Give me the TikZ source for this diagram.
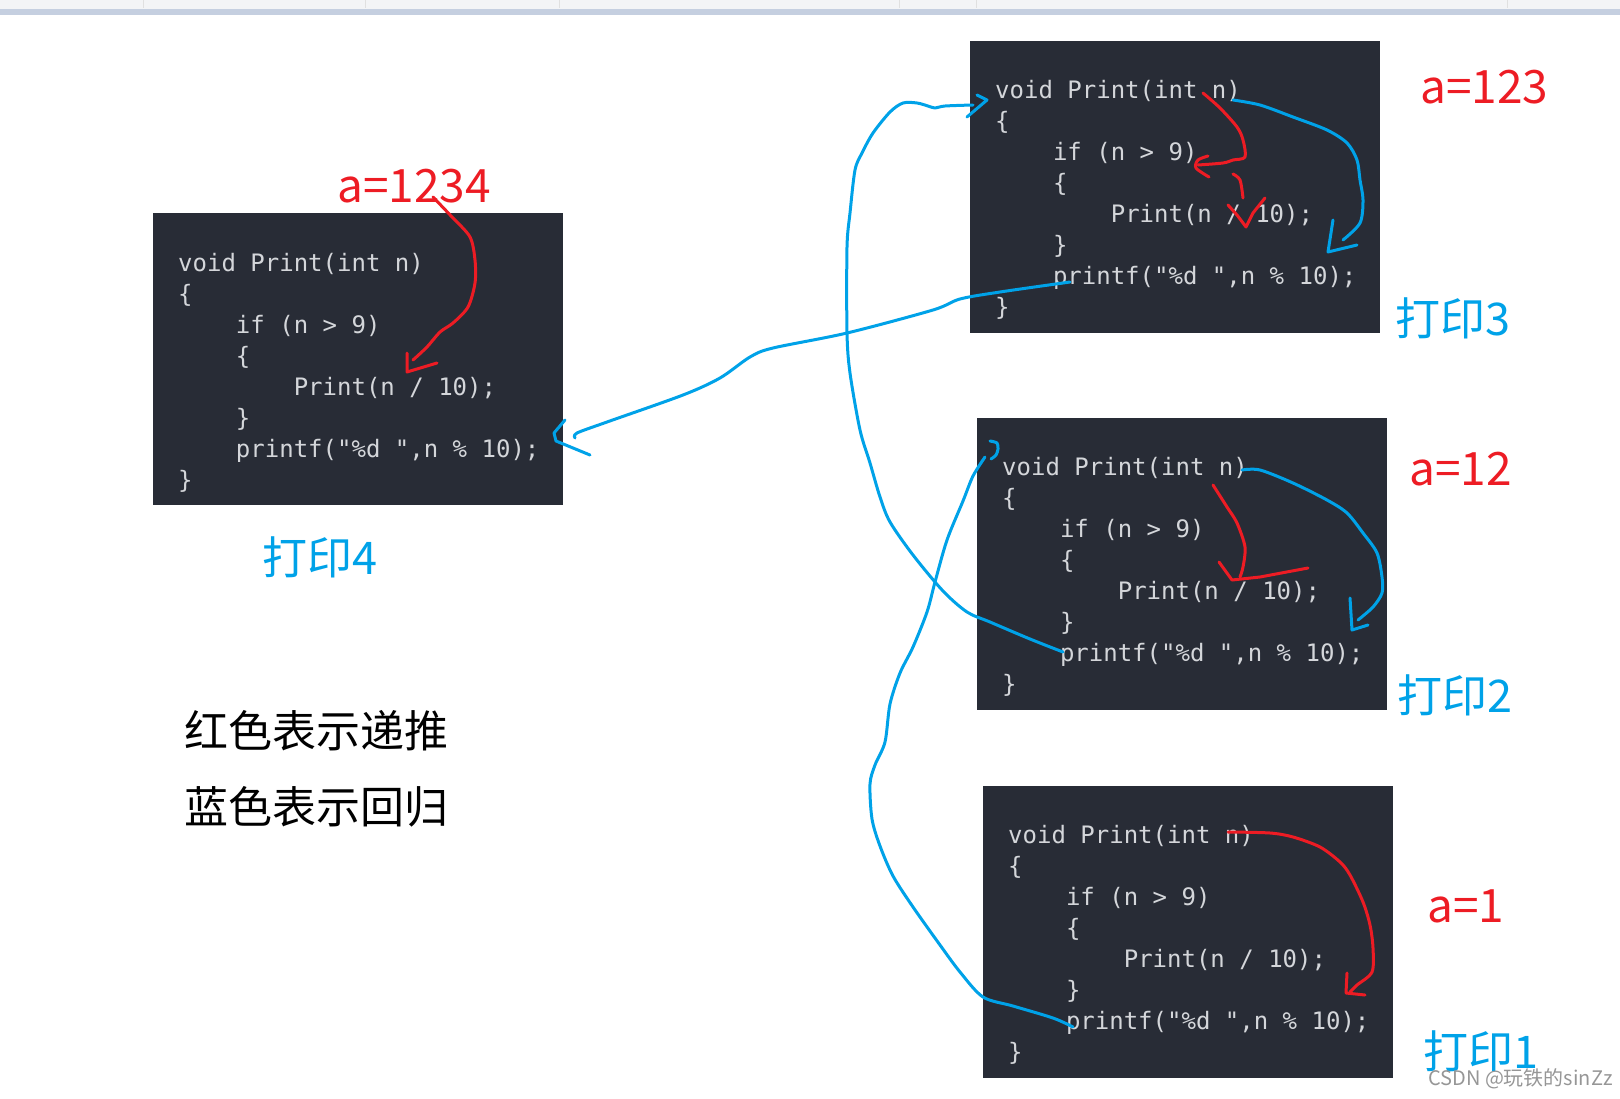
\documentclass[tikz,border=0pt]{standalone}
\usepackage{fontspec}
\setmonofont{DejaVu Sans Mono}
\newfontfamily\cjk{Noto Sans CJK SC}
\usetikzlibrary{arrows.meta}

\definecolor{codebg}{RGB}{40,44,54}
\definecolor{codefg}{RGB}{212,214,218}
\definecolor{penred}{RGB}{237,28,36}
\definecolor{penblue}{RGB}{0,162,232}
\definecolor{barbg}{RGB}{243,244,246}
\definecolor{barline}{RGB}{197,207,224}
\definecolor{markgray}{RGB}{150,150,150}

\newcommand\codeind{\phantom{0000}}
\newcommand\printcode{void Print(int n)\\\{\\\codeind if (n > 9)\\\codeind\{\\\codeind\codeind Print(n / 10);\\\codeind\}\\\codeind printf("\%d ",n \% 10);\\\}}

\tikzset{
  codebox/.style={fill=codebg, minimum width=410, minimum height=292, anchor=north west, inner sep=0},
  codetext/.style={font=\ttfamily\fontsize{24}{31}\selectfont, text=codefg, align=left, anchor=base west, inner sep=0},
  redlabel/.style={font=\cjk\fontsize{46}{46}\selectfont, text=penred, anchor=base west, inner sep=0},
  bluelabel/.style={font=\cjk\fontsize{45}{45}\selectfont, text=penblue, anchor=base west, inner sep=0},
  legend/.style={font=\cjk\fontsize{44}{44}\selectfont, text=black, anchor=base west, inner sep=0},
  redpen/.style={draw=penred, line width=3pt, line cap=round, line join=round},
  bluepen/.style={draw=penblue, line width=3pt, line cap=round, line join=round}
}

\begin{document}
\begin{tikzpicture}[x=1pt,y=-1pt]
\useasboundingbox (0,0) rectangle (1620,1098);
\fill[barbg] (0,0) rectangle (1620,9);
\fill[barline] (0,9) rectangle (1620,15);
\foreach \sx in {143,365,559,899,976,1507}
  \draw[black!12, line width=1pt] (\sx,0) -- (\sx,8);

\node[codebox] (b1234) at (153,213) {};
\node[codebox] (b123) at (970,41) {};
\node[codebox] (b12) at (977,418) {};
\node[codebox] (b1) at (983,786) {};
\node[codetext] (c1234) at ([shift={(25,275)}]b1234.north west) {\printcode};
\node[codetext] (c123) at ([shift={(25,274)}]b123.north west) {\printcode};
\node[codetext] (c12) at ([shift={(25,274)}]b12.north west) {\printcode};
\node[codetext] (c1) at ([shift={(25,274)}]b1.north west) {\printcode};

\node[redlabel] (a1234) at (337,202) {a=1234};
\node[redlabel] (a123) at (1420,103) {a=123};
\node[redlabel] (a12) at (1409,485) {a=12};
\node[redlabel] (a1) at (1427,922) {a=1};
\node[bluelabel] (p4) at (262,574) {打印4};
\node[bluelabel] (p3) at (1395,335) {打印3};
\node[bluelabel] (p2) at (1397,712) {打印2};
\node[bluelabel] (p1) at (1423,1068) {打印1};
\node[legend] (lred) at (184,747) {红色表示递推};
\node[legend] (lblue) at (184,823) {蓝色表示回归};

\coordinate (ret123) at (1070,282);
\coordinate (in1234) at (575,438);
\coordinate (ret12) at (1063,652);
\coordinate (in123) at (973,105);
\coordinate (ret1) at (1073,1027);
\coordinate (in12) at (985,457);
\coordinate (hd123) at (1233,100);
\coordinate (hd12) at (1242,470);

\draw[bluepen] plot[smooth] coordinates {(ret123) (1000,292) (960,299) (933,310) (847,333) (773,348) (750,357) (720,378) (683,395) (607,422) (577,433) (in1234)};
\draw[bluepen] (565,420) -- (554,433) -- (556,441) -- (590,455);
\draw[bluepen] plot[smooth] coordinates {(ret12) (1030,639) (990,622) (967,612) (943,591) (913,555) (890,522) (880,497) (870,463) (860,430) (850,373) (847,333) (847,247) (850,213) (855,170) (862,153) (873,133) (890,112) (903,103) (917,103) (928,106) (935,108) (945,106) (in123)};
\draw[bluepen] (967,117) -- (987,100) -- (977,95);
\draw[bluepen] plot[smooth] coordinates {(ret1) (1053,1018) (1013,1006) (983,997) (960,972) (940,945) (913,907) (893,876) (880,846) (872,819) (870,784) (875,765) (885,742) (890,704) (900,673) (913,647) (927,612) (935,582) (947,540) (963,501) (973,476) (in12)};
\draw[bluepen] plot[smooth] coordinates {(990,441) (997,443) (998,449) (996,455) (991,459)};
\draw[bluepen] plot[smooth] coordinates {(hd123) (1260,105) (1293,117) (1327,130) (1347,143) (1357,160) (1360,180) (1363,200) (1360,223) (1343,240)};
\draw[bluepen] (1333,220) -- (1328,252) -- (1357,245);
\draw[bluepen] plot[smooth] coordinates {(hd12) (1260,470) (1293,483) (1327,500) (1347,513) (1363,533) (1377,553) (1382,577) (1382,593) (1373,607) (1358,620)};
\draw[bluepen] (1350,598) -- (1352,630) -- (1368,625);

\draw[redpen] plot[smooth] coordinates {(433,197) (452,217) (470,237) (475,260) (475,283) (468,307) (453,323) (440,332) (427,347) (413,360)};
\draw[redpen] (407,353) -- (407,372) -- (437,363);
\draw[redpen] plot[smooth] coordinates {(1203,93) (1220,108) (1237,127) (1243,140) (1245,157) (1233,160) (1223,163) (1198,165)};
\draw[redpen] plot[smooth] coordinates {(1208,156) (1198,160) (1196,168) (1209,177)};
\draw[redpen] plot[smooth] coordinates {(1233,174) (1240,180) (1243,198)};
\draw[redpen] (1228,205) -- (1237,215) -- (1246,227) -- (1253,213) -- (1265,198);
\draw[redpen] plot[smooth] coordinates {(1213,485) (1227,507) (1237,523) (1245,547) (1243,567) (1240,577)};
\draw[redpen] (1219,562) -- (1232,580) -- (1260,577) -- (1308,568);
\draw[redpen] plot[smooth] coordinates {(1228,832) (1270,833) (1293,837) (1320,847) (1340,862) (1350,875) (1363,902) (1370,925) (1373,948) (1372,972) (1357,985) (1350,992)};
\draw[redpen] (1347,973) -- (1346,993) -- (1365,995);

\node[font=\cjk\fontsize{20}{20}\selectfont, text=markgray, anchor=base west, inner sep=0] (mark) at (1428,1085) {CSDN @玩铁的sinZz};
\end{tikzpicture}
\end{document}
